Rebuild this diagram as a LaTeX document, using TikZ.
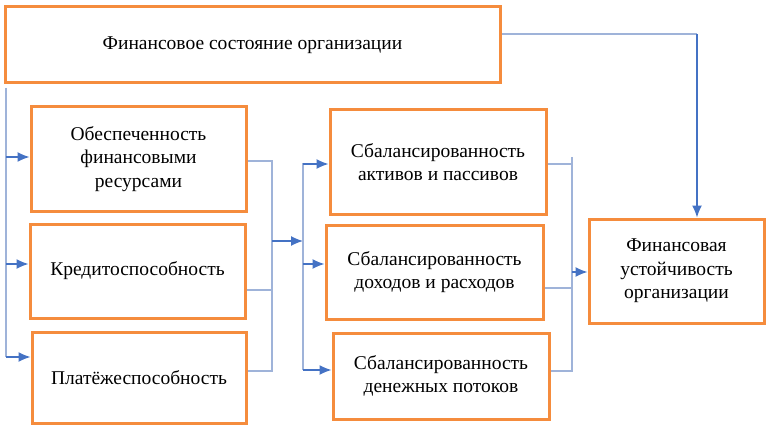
\documentclass[tikz,border=0pt]{standalone}
\usepackage{fontspec}
\setmainfont{Liberation Serif}
\usepackage{xcolor}
\definecolor{boxorange}{HTML}{F58C3D}
\definecolor{lineblue}{HTML}{9FB3D9}
\definecolor{arrowblue}{HTML}{4472C4}
\usetikzlibrary{arrows.meta,positioning}
\tikzset{
  finbox/.style={draw=boxorange,line width=3pt,align=center,fill=white,inner sep=0pt,
    font=\fontsize{19.5}{23.5}\selectfont},
  finline/.style={lineblue,line width=1.3pt},
  finarrow/.style={-{Latex[length=12pt,width=10pt]},arrowblue,line width=1.3pt}
}

\begin{document}
\begin{tikzpicture}[x=1pt,y=-1pt]
\useasboundingbox (0,0) rectangle (774,433);
\node[finbox,minimum width=495pt,minimum height=76pt] (top) at (252.5,45) {Финансовое состояние организации};
\node[finbox,minimum width=215pt,minimum height=104pt] (b1) at (138.5,159) {Обеспеченность\\финансовыми\\ресурсами};
\node[finbox,minimum width=215pt,minimum height=94pt] (b2) at (137.5,271) {Кредитоспособность};
\node[finbox,minimum width=214pt,minimum height=91pt] (b3) at (139,377.5) {Платёжеспособность};
\node[finbox,minimum width=216pt,minimum height=104pt] (b4) at (438,162) {Сбалансированность\\активов и пассивов};
\node[finbox,minimum width=217pt,minimum height=94pt] (b5) at (434.5,272) {Сбалансированность\\доходов и расходов};
\node[finbox,minimum width=216pt,minimum height=86pt] (b6) at (441,376) {Сбалансированность\\денежных потоков};
\node[finbox,minimum width=175pt,minimum height=104pt] (fs) at (676.5,271) {Финансовая\\устойчивость\\организации};
% left bus
\coordinate (la) at (6,88);
\coordinate (l1) at (6,157);
\coordinate (l2) at (6,264);
\coordinate (l3) at (6,357);
\draw[finline] (la)--(l3);
\draw[finarrow] (l1)--(l1 -| b1.west);
\draw[finarrow] (l2)--(l2 -| b2.west);
\draw[finarrow] (l3)--(l3 -| b3.west);
% first bracket
\coordinate (m1) at (272,161);
\coordinate (m2) at (272,290);
\coordinate (m3) at (272,371);
\coordinate (mo) at (272,241);
\coordinate (n0) at (303,241);
\draw[finline] (m1 -| b1.east)--(m1)--(m3)--(m3 -| b3.east);
\draw[finline] (m2 -| b2.east)--(m2);
\draw[finarrow] (mo)--(n0);
% second bus
\coordinate (na) at (303,163);
\coordinate (n1) at (303,164);
\coordinate (n2) at (303,264);
\coordinate (n3) at (303,370);
\draw[finline] (na)--(n3);
\draw[finarrow] (n1)--(n1 -| b4.west);
\draw[finarrow] (n2)--(n2 -| b5.west);
\draw[finarrow] (n3)--(n3 -| b6.west);
% second bracket
\coordinate (r0) at (572,157);
\coordinate (r1) at (572,164);
\coordinate (r2) at (572,288);
\coordinate (r3) at (572,371);
\coordinate (ro) at (572,272);
\draw[finline] (r0)--(r3)--(r3 -| b6.east);
\draw[finline] (r1 -| b4.east)--(r1);
\draw[finline] (r2 -| b5.east)--(r2);
\draw[finarrow] (ro)--(ro -| fs.west);
% top link
\coordinate (tc) at (697,34);
\draw[finline] (tc -| top.east)--(tc);
\draw[finarrow] (tc)--(tc |- fs.north);
\end{tikzpicture}
\end{document}
